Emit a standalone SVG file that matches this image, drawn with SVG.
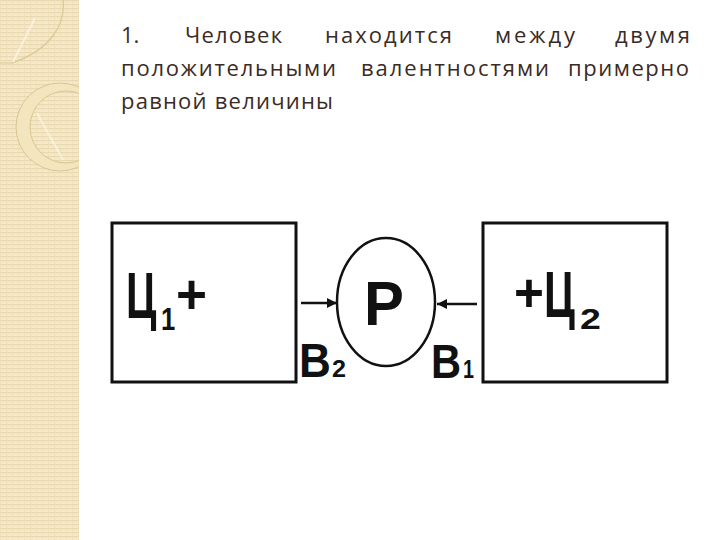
<svg xmlns="http://www.w3.org/2000/svg" width="720" height="540" viewBox="0 0 720 540">
  <defs>
    <pattern id="weave" width="6" height="4" patternUnits="userSpaceOnUse">
      <rect width="6" height="4" fill="#f5e9ca"/>
      <rect y="0" width="6" height="1.2" fill="#e9d9b0"/>
      <rect x="0" y="2" width="1" height="2" fill="#efe0bb"/>
    </pattern>
    <clipPath id="stripClip"><rect x="0" y="0" width="79" height="540"/></clipPath>
    <marker id="arrow" viewBox="0 0 10 10" refX="10" refY="5" markerWidth="4" markerHeight="4" orient="auto" markerUnits="strokeWidth">
      <path d="M0,0 L10,5 L0,10 Z" fill="#111"/>
    </marker>
  </defs>
  <style>
    .title { font-family: "Open Sans", "Noto Sans", sans-serif; font-size: 22px; fill: #3b2b25; }
    .lbl { font-family: "Liberation Sans", Arial, sans-serif; font-weight: bold; fill: #111; }
    .box { fill: #fff; stroke: #111; stroke-width: 3; }
    .conn { stroke: #111; stroke-width: 2.5; fill: none; }
  </style>

  <rect width="720" height="540" fill="#ffffff"/>

  <!-- decorative strip -->
  <g id="strip">
    <rect x="0" y="0" width="79" height="540" fill="url(#weave)"/>
    <g clip-path="url(#stripClip)">
      <path d="M63,0 C66,25 50,50 12,63" fill="none" stroke="#ddc998" stroke-width="1.3"/>
      <path d="M35,18 L13,62" fill="none" stroke="#fbf5e4" stroke-width="2" opacity="0.8"/>
      <path d="M0,63 L13,63" fill="none" stroke="#ddc998" stroke-width="1"/>
      <path fill-rule="evenodd" d="M104,127 A44,44 0 1,0 16,127 A44,44 0 1,0 104,127 Z M102,127 A36,36 0 1,0 30,127 A36,36 0 1,0 102,127 Z" fill="#f3e5bd" stroke="#d9c595" stroke-width="1"/>
      <path d="M37,113 L63,160" fill="none" stroke="#fbf5e4" stroke-width="2" opacity="0.7"/>
    </g>
  </g>

  <!-- title text -->
  <g id="title">
    <text class="title" x="121" y="43">1.</text>
    <text class="title" x="185" y="43" textLength="97">Человек</text>
    <text class="title" x="325" y="43" textLength="127">находится</text>
    <text class="title" x="495" y="43" textLength="80">между</text>
    <text class="title" x="615" y="43" textLength="75">двумя</text>
    <text class="title" x="121" y="76" textLength="215">положительными</text>
    <text class="title" x="361" y="76" textLength="188">валентностями</text>
    <text class="title" x="568" y="76" textLength="121">примерно</text>
    <text class="title" x="121" y="109" textLength="212">равной величины</text>
  </g>

  <!-- connectors -->
  <g id="connectors">
    <line class="conn" x1="301" y1="303" x2="337" y2="303" marker-end="url(#arrow)"/>
    <line class="conn" x1="477" y1="304" x2="437" y2="304" marker-end="url(#arrow)"/>
  </g>

  <!-- left node -->
  <g id="node-c1">
    <rect class="box" x="112" y="223" width="184" height="159"/>
    <text class="lbl" transform="translate(126,318) scale(0.65,1)" font-size="64">Ц</text>
    <text class="lbl" transform="translate(161,330) scale(0.8,1)" font-size="32">1</text>
    <text class="lbl" transform="translate(176,313) scale(0.95,1)" font-size="56">+</text>
  </g>

  <!-- center node -->
  <g id="node-p">
    <ellipse cx="386" cy="302" rx="49" ry="64" fill="#fff" stroke="#111" stroke-width="2.5"/>
    <text class="lbl" transform="translate(364,325) scale(0.95,1)" font-size="63">P</text>
  </g>

  <!-- right node -->
  <g id="node-c2">
    <rect class="box" x="483" y="223" width="184" height="159"/>
    <text class="lbl" transform="translate(514,311) scale(0.95,1)" font-size="54">+</text>
    <text class="lbl" transform="translate(544,317) scale(0.66,1)" font-size="64">Ц</text>
    <text class="lbl" transform="translate(580,329) scale(1.25,1)" font-size="30">2</text>
  </g>

  <!-- valence labels -->
  <g id="label-b2">
    <text class="lbl" transform="translate(299,377) scale(0.9,1)" font-size="49">В</text>
    <text class="lbl" transform="translate(332,377) scale(1.05,1)" font-size="24">2</text>
  </g>
  <g id="label-b1">
    <text class="lbl" transform="translate(431,378) scale(0.85,1)" font-size="49">В</text>
    <text class="lbl" transform="translate(463,378) scale(0.76,1)" font-size="26">1</text>
  </g>
</svg>
